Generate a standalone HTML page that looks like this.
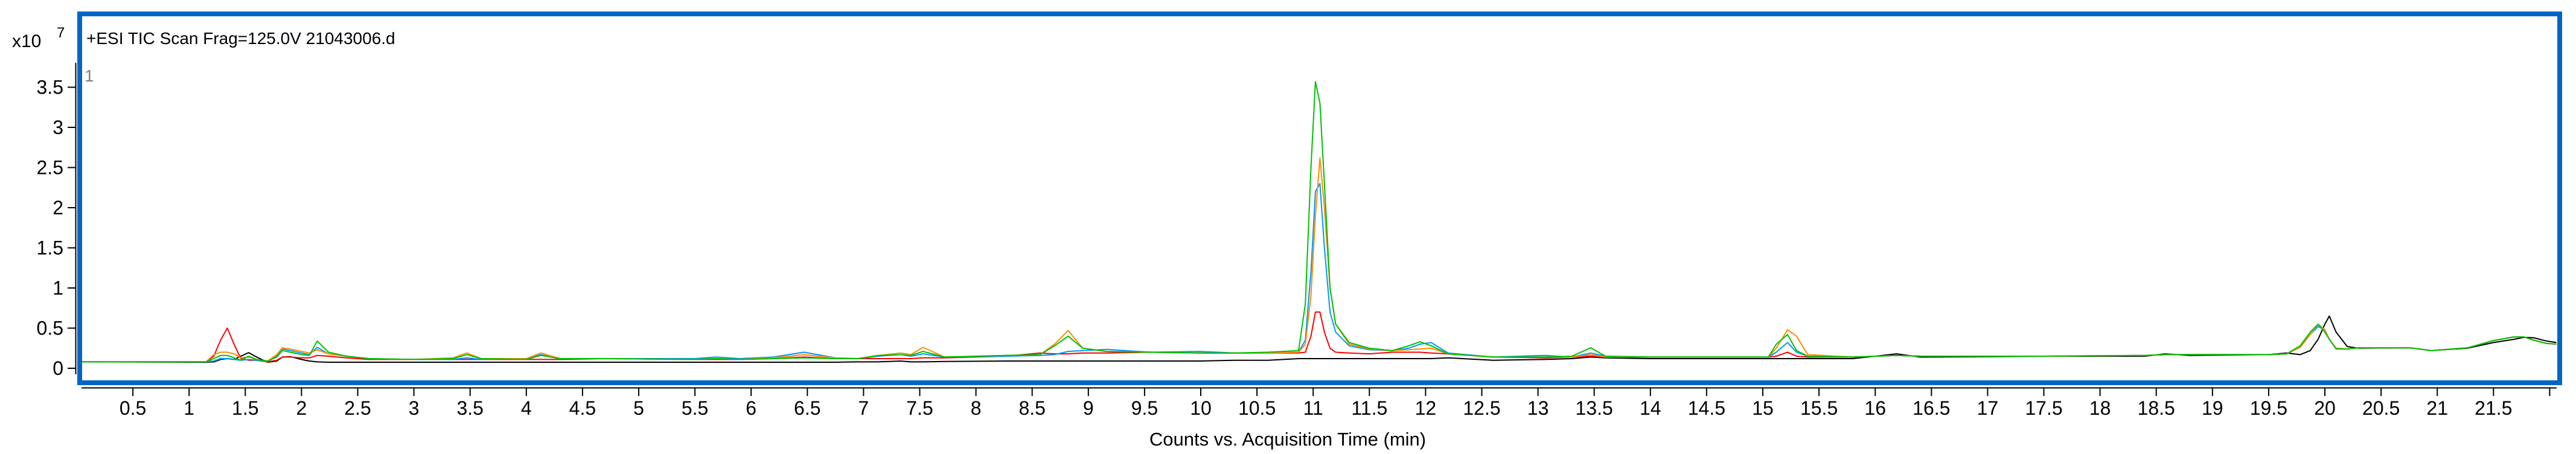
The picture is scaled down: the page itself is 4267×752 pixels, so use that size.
<!DOCTYPE html>
<html><head><meta charset="utf-8"><style>
html,body{margin:0;padding:0;background:#fff;}
svg{display:block;font-family:"Liberation Sans",Arial,sans-serif;}
</style></head><body>
<svg id="chart" width="4267" height="752" viewBox="0 0 4267 752" xmlns="http://www.w3.org/2000/svg">
  <rect x="132" y="23" width="4108" height="611" fill="none" stroke="#0066c6" stroke-width="8"/>
  <text x="143" y="73" font-size="28" fill="#000">+ESI TIC Scan Frag=125.0V 21043006.d</text>
  <text x="140" y="135" font-size="28" fill="#808080">1</text>
  <text x="20" y="78" font-size="30" fill="#000">x10</text>
  <text x="94" y="62" font-size="24" fill="#000">7</text>
  <line x1="125.5" y1="104" x2="125.5" y2="620" stroke="#000" stroke-width="2"/>
  <line x1="135" y1="642.5" x2="4235" y2="642.5" stroke="#000" stroke-width="2"/>
  <g id="yticks"></g>
  <g id="xticks"></g>
  <g id="series"></g>
  <text x="2133" y="738" font-size="31" text-anchor="middle" fill="#000">Counts vs. Acquisition Time (min)</text>
</svg>
<script>
const times = [0.05,1.15,1.22,1.28,1.34,1.40,1.46,1.53,1.60,1.70,1.78,1.83,1.90,2.00,2.07,2.14,2.24,2.40,2.60,3.0,3.35,3.47,3.6,4.0,4.13,4.3,4.7,5.5,5.69,5.9,6.2,6.47,6.75,6.95,7.13,7.33,7.42,7.53,7.72,8.27,8.57,8.70,8.82,8.95,9.16,9.55,9.99,10.3,10.6,10.87,10.93,10.98,11.02,11.06,11.10,11.15,11.2,11.32,11.5,11.7,11.85,11.95,12.05,12.2,12.6,13.06,13.3,13.47,13.6,14.0,14.6,15.05,15.12,15.22,15.30,15.40,15.8,16.19,16.4,17.5,18.4,18.58,18.8,19.5,19.66,19.78,19.87,19.94,20.0,20.04,20.1,20.2,20.3,20.76,20.95,21.27,21.5,21.68,21.77,21.86,21.97,22.06];
const redSeries = [.08,.08,.15,.35,.50,.30,.12,.10,.10,.08,.10,.14,.14,.13,.13,.16,.15,.13,.11,.11,.11,.11,.11,.11,.11,.11,.12,.11,.11,.11,.12,.14,.12,.12,.12,.12,.12,.13,.13,.15,.19,.18,.18,.19,.19,.20,.19,.19,.19,.19,.20,.40,.70,.70,.45,.25,.20,.19,.18,.20,.20,.20,.19,.18,.14,.13,.14,.15,.14,.14,.14,.14,.15,.20,.15,.14,.14,.16,.15,.15,.16,.17,.17,.17,.18,.26,.42,.55,.48,.36,.25,.24,.255,.255,.22,.255,.345,.39,.39,.35,.31,.30];
const orangeSeries = [.08,.08,.17,.20,.20,.18,.13,.14,.11,.09,.17,.255,.24,.21,.19,.23,.18,.15,.12,.11,.13,.19,.12,.12,.19,.12,.12,.11,.12,.11,.13,.17,.13,.12,.16,.19,.17,.26,.14,.16,.17,.30,.47,.25,.21,.20,.19,.19,.19,.20,.30,.90,1.90,2.62,2.00,1.00,.55,.30,.24,.22,.23,.24,.25,.18,.14,.14,.14,.17,.14,.14,.14,.14,.25,.48,.40,.17,.14,.16,.15,.15,.16,.17,.17,.17,.18,.26,.42,.55,.48,.36,.25,.24,.255,.255,.22,.255,.345,.39,.39,.35,.31,.30];
const greenSeries = [.08,.08,.12,.16,.16,.13,.10,.15,.11,.09,.14,.22,.20,.17,.16,.34,.20,.15,.12,.11,.12,.17,.12,.11,.16,.12,.12,.11,.12,.11,.12,.13,.12,.12,.16,.17,.16,.21,.14,.16,.17,.28,.40,.25,.21,.20,.19,.19,.20,.22,.80,2.50,3.57,3.30,2.30,1.00,.55,.32,.25,.22,.28,.33,.28,.18,.14,.14,.15,.255,.15,.14,.14,.14,.30,.42,.22,.15,.14,.16,.15,.15,.16,.17,.17,.17,.18,.28,.45,.55,.45,.36,.24,.24,.255,.255,.22,.255,.345,.39,.39,.35,.31,.30];
const blueSeries = [.08,.08,.09,.12,.12,.11,.10,.11,.10,.09,.15,.24,.22,.19,.17,.26,.18,.15,.12,.11,.11,.13,.11,.12,.17,.12,.12,.12,.14,.12,.14,.20,.13,.12,.15,.17,.15,.18,.14,.15,.16,.17,.21,.22,.235,.20,.21,.19,.19,.20,.35,1.20,2.20,2.30,1.50,.70,.45,.28,.23,.22,.25,.30,.32,.19,.14,.16,.14,.19,.15,.14,.14,.14,.20,.32,.20,.15,.14,.16,.15,.15,.16,.17,.17,.17,.18,.26,.42,.52,.48,.36,.25,.24,.255,.255,.22,.255,.345,.39,.39,.35,.31,.30];
const blackSeries = [.08,.075,.08,.11,.12,.11,.15,.195,.14,.075,.09,.14,.145,.11,.09,.08,.075,.075,.075,.075,.075,.075,.075,.075,.075,.075,.075,.075,.075,.075,.075,.075,.075,.08,.08,.09,.08,.08,.085,.09,.09,.09,.09,.09,.09,.09,.09,.10,.10,.12,.12,.12,.12,.12,.12,.12,.12,.12,.12,.12,.12,.12,.12,.13,.10,.11,.12,.14,.13,.12,.12,.12,.12,.12,.12,.12,.12,.18,.14,.15,.15,.18,.16,.17,.19,.17,.22,.36,.55,.65,.45,.27,.25,.255,.22,.25,.32,.36,.385,.38,.34,.32];
const yTickValues = [0,0.5,1,1.5,2,2.5,3,3.5];
const yTickLabels = ["0","0.5","1","1.5","2","2.5","3","3.5"];
const xTickValues = [0.5,1,1.5,2,2.5,3,3.5,4,4.5,5,5.5,6,6.5,7,7.5,8,8.5,9,9.5,10,10.5,11,11.5,12,12.5,13,13.5,14,14.5,15,15.5,16,16.5,17,17.5,18,18.5,19,19.5,20,20.5,21,21.5,22];
const xTickLabels = ["0.5","1","1.5","2","2.5","3","3.5","4","4.5","5","5.5","6","6.5","7","7.5","8","8.5","9","9.5","10","10.5","11","11.5","12","12.5","13","13.5","14","14.5","15","15.5","16","16.5","17","17.5","18","18.5","19","19.5","20","20.5","21","21.5",""];

const NS = "http://www.w3.org/2000/svg";
function xScale(t){ return 127 + t*186.2; }
function yScale(v){ return 610 - v*133; }

const yg = document.getElementById('yticks');
yTickValues.forEach((v,i)=>{
  const y = yScale(v);
  const l = document.createElementNS(NS,'line');
  l.setAttribute('x1',112); l.setAttribute('x2',125); l.setAttribute('y1',y); l.setAttribute('y2',y);
  l.setAttribute('stroke','#000'); l.setAttribute('stroke-width','2');
  
  
  yg.appendChild(l);
  const t = document.createElementNS(NS,'text');
  t.setAttribute('x',105); t.setAttribute('y',y+11); t.setAttribute('font-size','32'); t.setAttribute('text-anchor','end');
  t.textContent = yTickLabels[i];
  
  
  yg.appendChild(t);
});
const xg = document.getElementById('xticks');
xTickValues.forEach((v,i)=>{
  const x = xScale(v);
  const l = document.createElementNS(NS,'line');
  l.setAttribute('x1',x); l.setAttribute('x2',x); l.setAttribute('y1',642); l.setAttribute('y2',656);
  l.setAttribute('stroke','#000'); l.setAttribute('stroke-width','2');
  
  
  xg.appendChild(l);
  if (xTickLabels[i]) {
    const t = document.createElementNS(NS,'text');
    t.setAttribute('x',x); t.setAttribute('y',687); t.setAttribute('font-size','32'); t.setAttribute('text-anchor','middle');
    t.textContent = xTickLabels[i];
    
    
    xg.appendChild(t);
  }
});
const sg = document.getElementById('series');
function drawSeries(vals, color, name){
  const p = document.createElementNS(NS,'polyline');
  p.setAttribute('points', times.map((t,i)=>xScale(t).toFixed(1)+','+yScale(vals[i]).toFixed(1)).join(' '));
  p.setAttribute('fill','none'); p.setAttribute('stroke',color); p.setAttribute('stroke-width','2');
  p.setAttribute('stroke-linejoin','round');
  
  
  sg.appendChild(p);
}
drawSeries(blackSeries,'#000000','trace-black');
drawSeries(redSeries,'#ff0000','trace-red');
drawSeries(blueSeries,'#0096ff','trace-blue');
drawSeries(orangeSeries,'#ff8c00','trace-orange');
drawSeries(greenSeries,'#00c000','trace-green');
</script>
</body></html>
